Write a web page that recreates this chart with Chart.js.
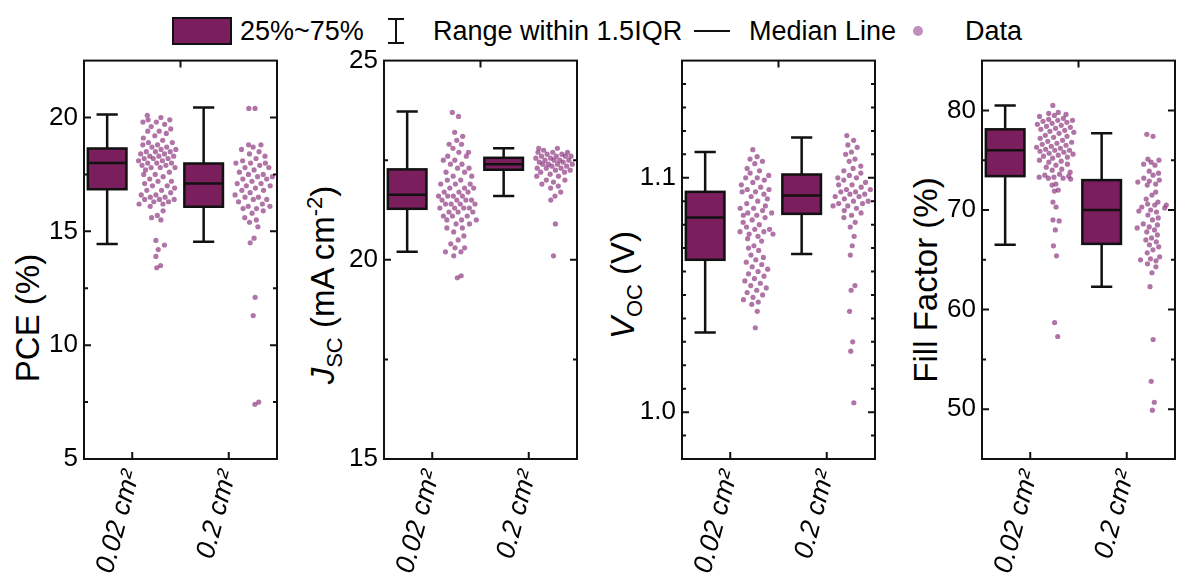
<!DOCTYPE html>
<html>
<head>
<meta charset="utf-8">
<script src="https://cdn.jsdelivr.net/npm/chart.js@4/dist/chart.umd.min.js"></script>
<style>
  body { margin: 0; background: #fff; font-family: "Liberation Sans", Arial, sans-serif; }
  #wrap { position: relative; width: 1179px; height: 582px; overflow: hidden; }
  .panel { position: absolute; top: 39px; }
  .ytitle { position: absolute; font-size: 33px; white-space: nowrap; color: #000;
            transform: translate(-50%, -50%) rotate(-90deg); }
  .ytitle sub, .ytitle sup { font-size: 22px; }
  .lg { position: absolute; font-size: 27px; white-space: nowrap; color: #000; line-height: 30px; top: 16px; }
</style>
</head>
<body>
<div id="wrap">
  <!-- legend -->
  <div style="position:absolute;left:172px;top:17px;width:56px;height:24px;background:#7b1e5e;border:2px solid #111;"></div>
  <div class="lg" style="left:240px;">25%~75%</div>
  <div style="position:absolute;left:395px;top:19px;width:2px;height:24px;background:#111;"></div>
  <div style="position:absolute;left:388px;top:18px;width:16px;height:2px;background:#111;"></div>
  <div style="position:absolute;left:388px;top:42px;width:16px;height:2px;background:#111;"></div>
  <div class="lg" style="left:433px;">Range within 1.5IQR</div>
  <div style="position:absolute;left:694px;top:30px;width:36px;height:2px;background:#111;"></div>
  <div class="lg" style="left:749px;">Median Line</div>
  <div style="position:absolute;left:913px;top:26px;width:10px;height:10px;border-radius:50%;background:#c190bd;"></div>
  <div class="lg" style="left:965px;">Data</div>

  <div class="ytitle" style="left:28px;top:318px;">PCE (%)</div>
  <div class="ytitle" style="left:325px;top:285px;"><i>J</i><sub>SC</sub> (mA cm<sup>-2</sup>)</div>
  <div class="ytitle" style="left:626px;top:285px;"><i>V</i><sub>OC</sub> (V)</div>
  <div class="ytitle" style="left:926px;top:280px;">Fill Factor (%)</div>

  <div class="panel" style="left:22px;"><canvas id="c0" width="259" height="543"></canvas></div>
  <div class="panel" style="left:322px;"><canvas id="c1" width="259" height="543"></canvas></div>
  <div class="panel" style="left:620px;"><canvas id="c2" width="259" height="543"></canvas></div>
  <div class="panel" style="left:920px;"><canvas id="c3" width="259" height="543"></canvas></div>
</div>
<script>
const CATEGORIES = ['0.02 cm\u00B2', '0.2 cm\u00B2'];

// box stats: [lower whisker, Q1, median, Q3, upper whisker]
const PCE_BOX = [[14.44, 16.85, 18.0, 18.64, 20.13], [14.54, 16.08, 17.1, 17.98, 20.44]];
const JSC_BOX = [[20.2, 21.28, 21.63, 22.27, 23.72], [21.6, 22.26, 22.4, 22.56, 22.8]];
const VOC_BOX = [[1.034, 1.065, 1.083, 1.094, 1.111], [1.0675, 1.0846, 1.0924, 1.1014, 1.1172]];
const FF_BOX = [[66.5, 73.4, 76.0, 78.1, 80.5], [62.3, 66.6, 70.0, 73.0, 77.7]];

// individual devices
const PCE_002 = [20.1,20.0,19.9,19.9,19.8,19.8,19.7,19.6,19.5,19.4,19.4,19.3,19.2,19.1,19.0,18.9,18.9,18.8,18.8,18.7,18.7,18.6,18.6,18.5,18.5,18.5,18.4,18.4,18.3,18.3,18.3,18.2,18.2,18.2,18.1,18.1,18.0,18.0,18.0,17.9,17.9,17.8,17.8,17.8,17.7,17.6,17.5,17.5,17.4,17.3,17.2,17.2,17.1,17.0,17.0,16.9,16.8,16.8,16.7,16.6,16.6,16.5,16.5,16.4,16.4,16.4,16.3,16.3,16.2,16.2,16.1,15.9,15.7,15.6,15.5,14.6,14.4,14.2,13.9,13.5,13.4];
const PCE_02 = [20.4,20.4,18.8,18.8,18.7,18.6,18.5,18.4,18.3,18.2,18.1,18.0,18.0,18.0,17.9,17.8,17.8,17.7,17.6,17.5,17.5,17.4,17.4,17.3,17.3,17.2,17.1,17.1,17.0,17.0,16.9,16.8,16.8,16.7,16.6,16.5,16.5,16.4,16.4,16.3,16.2,16.1,16.1,16.0,16.0,15.9,15.8,15.6,15.5,15.4,15.2,14.7,14.5,12.1,11.3,7.5,7.4];
const JSC_002 = [23.7,23.6,23.2,23.1,23.0,22.9,22.9,22.8,22.7,22.7,22.6,22.6,22.5,22.5,22.4,22.4,22.3,22.3,22.2,22.2,22.1,22.1,22.0,22.0,21.9,21.9,21.9,21.8,21.8,21.8,21.7,21.7,21.7,21.6,21.6,21.6,21.6,21.5,21.5,21.5,21.5,21.4,21.4,21.4,21.4,21.3,21.3,21.3,21.3,21.2,21.2,21.2,21.1,21.1,21.1,21.0,21.0,21.0,20.9,20.9,20.8,20.8,20.7,20.6,20.5,20.4,20.3,20.3,20.2,20.2,20.1,19.6,19.55];
const JSC_02 = [22.8,22.8,22.75,22.7,22.7,22.7,22.65,22.65,22.6,22.6,22.6,22.6,22.55,22.55,22.5,22.5,22.5,22.5,22.45,22.45,22.4,22.4,22.4,22.4,22.35,22.35,22.3,22.3,22.3,22.25,22.25,22.2,22.2,22.15,22.1,22.1,22.0,22.0,21.95,21.9,21.85,21.8,21.7,21.6,21.5,20.9,20.1];
const VOC_002 = [1.112,1.109,1.108,1.107,1.106,1.104,1.103,1.102,1.101,1.100,1.100,1.099,1.098,1.097,1.096,1.095,1.095,1.094,1.094,1.093,1.092,1.091,1.090,1.089,1.088,1.087,1.087,1.086,1.085,1.085,1.084,1.084,1.083,1.082,1.081,1.080,1.079,1.078,1.078,1.077,1.077,1.076,1.076,1.075,1.074,1.073,1.071,1.070,1.069,1.067,1.066,1.065,1.064,1.063,1.062,1.061,1.060,1.059,1.058,1.057,1.056,1.055,1.054,1.053,1.052,1.051,1.050,1.049,1.048,1.047,1.046,1.043,1.036];
const VOC_02 = [1.118,1.116,1.114,1.113,1.111,1.110,1.108,1.107,1.105,1.104,1.103,1.102,1.101,1.100,1.100,1.099,1.098,1.097,1.097,1.096,1.095,1.095,1.094,1.094,1.093,1.093,1.092,1.092,1.091,1.090,1.090,1.089,1.089,1.088,1.088,1.087,1.086,1.085,1.084,1.083,1.081,1.079,1.075,1.071,1.067,1.054,1.052,1.043,1.030,1.026,1.004];
const FF_002 = [80.5,79.8,79.7,79.6,79.5,79.4,79.2,79.1,79.0,79.0,78.9,78.8,78.7,78.6,78.5,78.4,78.3,78.2,78.1,78.0,77.9,77.8,77.7,77.5,77.4,77.3,77.2,77.0,76.9,76.8,76.7,76.6,76.5,76.4,76.3,76.2,76.1,76.0,76.0,75.9,75.8,75.7,75.6,75.5,75.4,75.3,75.2,75.0,74.9,74.8,74.6,74.5,74.3,74.1,74.0,73.8,73.6,73.5,73.4,73.3,73.3,73.2,73.2,73.1,72.6,72.5,72.0,71.9,70.8,70.3,69.0,68.9,68.0,66.4,65.4,58.7,57.3];
const FF_02 = [77.6,77.4,75.1,75.0,74.8,74.6,74.5,73.9,73.7,73.5,73.2,73.0,72.9,72.8,72.6,72.5,71.8,71.5,71.1,70.8,70.6,70.5,70.5,70.3,70.2,70.0,69.9,69.8,69.5,69.2,69.0,68.6,68.5,68.3,68.2,68.0,67.8,67.5,67.2,67.0,66.8,66.5,66.3,66.0,65.7,65.3,65.1,65.0,64.9,64.6,64.3,63.7,62.3,57.0,52.8,50.7,49.9];

// axis ticks
const PCE_TICKS = [5, 10, 15, 20];
const JSC_TICKS = [15, 20, 25];
const VOC_TICKS = [1.0, 1.1];
const FF_TICKS = [50, 60, 70, 80];

const FONT = '"Liberation Sans", Arial, sans-serif';
const BOX_COLOR = '#7b1e5e';
const DOT_COLOR = 'rgba(140, 50, 125, 0.68)';
const BOX_SHIFT = -0.26, DOT_SHIFT = 0.26;

// spread the dots sideways, wider where the values are dense
function dots(values, cat, range) {
    const win = range * 0.012;
    return values.map((v, i) => {
        const n = values.filter(w => Math.abs(w - v) <= win).length;
        const half = Math.min(0.2, 0.026 * n);
        const off = (((i * 0.6180339) % 1) * 2 - 1) * half;
        return { x: cat + 0.5 + DOT_SHIFT + off, y: v };
    });
}

const boxPlugin = {
    id: 'boxes',
    beforeDatasetsDraw(chart, args, opts) {
        const { ctx } = chart;
        const x = chart.scales.x, y = chart.scales.y;
        const unit = x.getPixelForValue(1) - x.getPixelForValue(0);
        opts.stats.forEach((s, i) => {
            const cx = x.getPixelForValue(i + 0.5 + BOX_SHIFT);
            const hw = unit * 0.2, cw = unit * 0.11;
            ctx.save();
            ctx.strokeStyle = '#111';
            ctx.lineWidth = 2.5;
            ctx.beginPath();
            ctx.moveTo(cx, y.getPixelForValue(s[0]));
            ctx.lineTo(cx, y.getPixelForValue(s[4]));
            ctx.moveTo(cx - cw, y.getPixelForValue(s[0]));
            ctx.lineTo(cx + cw, y.getPixelForValue(s[0]));
            ctx.moveTo(cx - cw, y.getPixelForValue(s[4]));
            ctx.lineTo(cx + cw, y.getPixelForValue(s[4]));
            ctx.stroke();
            const top = y.getPixelForValue(s[3]), bot = y.getPixelForValue(s[1]);
            ctx.fillStyle = BOX_COLOR;
            ctx.fillRect(cx - hw, top, hw * 2, bot - top);
            ctx.strokeRect(cx - hw, top, hw * 2, bot - top);
            ctx.beginPath();
            ctx.moveTo(cx - hw, y.getPixelForValue(s[2]));
            ctx.lineTo(cx + hw, y.getPixelForValue(s[2]));
            ctx.stroke();
            ctx.restore();
        });
    },
    afterDraw(chart, args, opts) {
        const { ctx, chartArea: a } = chart;
        const x = chart.scales.x, y = chart.scales.y;
        ctx.save();
        ctx.strokeStyle = '#111';
        ctx.lineWidth = 2;
        ctx.strokeRect(a.left, a.top, a.right - a.left, a.bottom - a.top);
        ctx.beginPath();
        const step = opts.minor, major = opts.major;
        for (let k = Math.ceil(y.min / step - 1e-6); k * step <= y.max + 1e-9; k++) {
            const v = k * step;
            const isMajor = Math.abs(v / major - Math.round(v / major)) < 1e-6;
            const len = isMajor ? 7 : 4;
            const py = y.getPixelForValue(v);
            if (py <= a.top + 1 || py >= a.bottom - 1) continue;
            ctx.moveTo(a.left, py); ctx.lineTo(a.left + len, py);
            ctx.moveTo(a.right, py); ctx.lineTo(a.right - len, py);
        }
        x.ticks.forEach(t => {
            const px = x.getPixelForValue(t.value);
            ctx.moveTo(px, a.bottom); ctx.lineTo(px, a.bottom - 7);
        });
        const mid = x.getPixelForValue(1);
        ctx.moveTo(mid, a.top); ctx.lineTo(mid, a.top + 7);
        ctx.stroke();
        ctx.restore();
    }
};

function makePanel(id, stats, series, yMin, yMax, yTicks, major, minor, fmt) {
    const range = yMax - yMin;
    new Chart(document.getElementById(id), {
        type: 'scatter',
        data: {
            datasets: series.map((vals, c) => ({
                data: dots(vals, c, range),
                pointRadius: 2.6,
                pointBackgroundColor: DOT_COLOR,
                pointBorderWidth: 0
            }))
        },
        options: {
            responsive: false,
            animation: false,
            layout: { padding: { top: 10, right: 2, left: 0, bottom: 0 } },
            plugins: {
                legend: { display: false },
                tooltip: { enabled: false },
                boxes: { stats: stats, major: major, minor: minor }
            },
            scales: {
                x: {
                    type: 'linear', min: 0, max: 2,
                    grid: { display: false, drawTicks: false },
                    border: { display: false },
                    afterBuildTicks: s => { s.ticks = [0.5, 1.5].map(v => ({ value: v })); },
                    afterFit: s => { s.height = 123; },
                    ticks: {
                        autoSkip: false, minRotation: 75, maxRotation: 75, padding: 8,
                        color: '#000',
                        font: { family: FONT, size: 27, style: 'italic' },
                        callback: v => CATEGORIES[Math.round(v - 0.5)]
                    }
                },
                y: {
                    type: 'linear', min: yMin, max: yMax,
                    grid: { display: false, drawTicks: false },
                    border: { display: false },
                    afterBuildTicks: s => { s.ticks = yTicks.map(v => ({ value: v })); },
                    afterFit: s => { s.width = 62; },
                    ticks: {
                        padding: 6, color: '#000',
                        font: { family: FONT, size: 26 },
                        callback: fmt
                    }
                }
            }
        },
        plugins: [boxPlugin]
    });
}

makePanel('c0', PCE_BOX, [PCE_002, PCE_02], 5, 22.5, PCE_TICKS, 5, 2.5, v => String(v));
makePanel('c1', JSC_BOX, [JSC_002, JSC_02], 15, 25, JSC_TICKS, 5, 2.5, v => String(v));
makePanel('c2', VOC_BOX, [VOC_002, VOC_02], 0.98, 1.15, VOC_TICKS, 0.1, 0.01, v => v.toFixed(1));
makePanel('c3', FF_BOX, [FF_002, FF_02], 45, 85, FF_TICKS, 10, 5, v => String(v));
</script>
</body>
</html>
